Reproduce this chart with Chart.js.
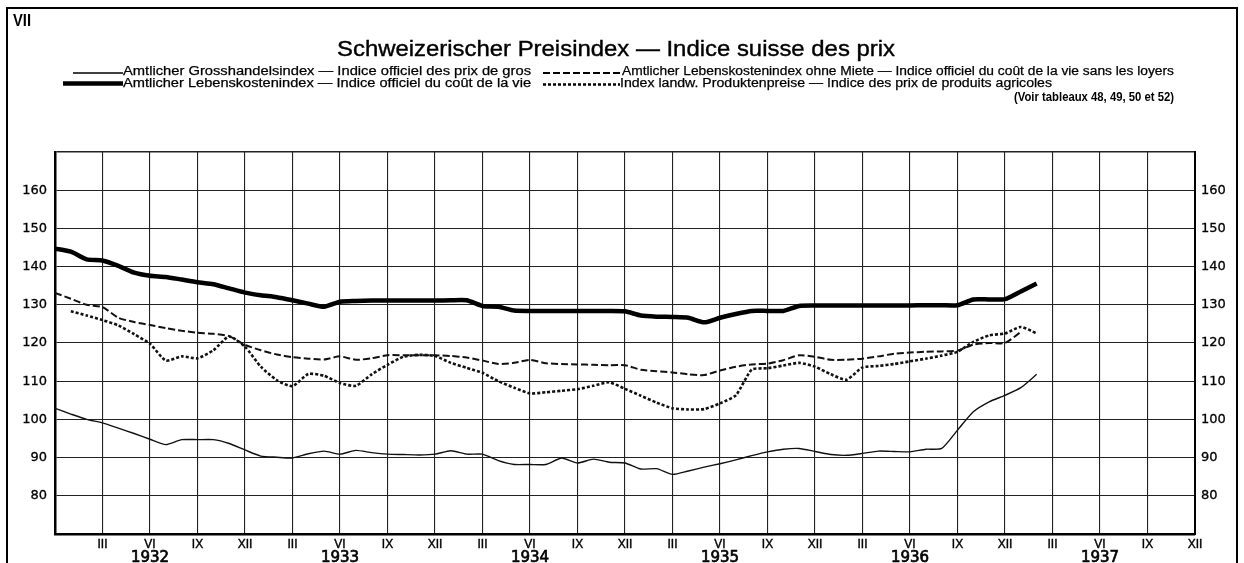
<!DOCTYPE html>
<html>
<head>
<meta charset="utf-8">
<script src="https://cdn.jsdelivr.net/npm/chart.js@4.4.1/dist/chart.umd.min.js"></script>
<style>
  html, body { margin: 0; padding: 0; background: #fff; overflow: hidden; }
  canvas { display: block; }
</style>
</head>
<body>
<canvas id="preisChart" width="1244" height="563"></canvas>
<script>
// month index: 0 = start of 1932, 12 = XII 1932, ... 72 = XII 1937
const monthIndex = [0, 1, 2, 3, 4, 5, 6, 7, 8, 9, 10, 11, 12, 13, 14, 15, 16, 17, 18, 19, 20,
  21, 22, 23, 24, 25, 26, 27, 28, 29, 30, 31, 32, 33, 34, 35, 36, 37, 38, 39, 40, 41,
  42, 43, 44, 45, 46, 47, 48, 49, 50, 51, 52, 53, 54, 55, 56, 57, 58, 59, 60, 61, 62];

const grosshandel = [102.9, 101.4, 100.0, 99.1, 97.7, 96.3, 94.8, 93.4, 94.7, 94.7, 94.7,
  93.7, 92.0, 90.4, 90.1, 89.9, 91.0, 91.7, 90.9, 91.9, 91.3, 90.9, 90.8, 90.7, 90.9,
  91.8, 90.9, 90.9, 89.2, 88.2, 88.2, 88.2, 89.9, 88.6, 89.6, 88.8, 88.6, 87.0, 87.1,
  85.6, 86.5, 87.5, 88.4, 89.4, 90.5, 91.5, 92.2, 92.4, 91.6, 90.8, 90.6, 91.1, 91.7,
  91.6, 91.5, 92.2, 92.4, 97.2, 102.0, 104.6, 106.3, 108.3, 111.8];

const lebenskosten = [144.7, 143.9, 141.9, 141.6, 140.2, 138.4, 137.6, 137.3, 136.6, 135.9,
  135.4, 134.3, 133.2, 132.5, 132.0, 131.2, 130.3, 129.5, 130.8, 131.0, 131.1, 131.1,
  131.1, 131.1, 131.1, 131.2, 131.2, 129.7, 129.5, 128.5, 128.4, 128.4, 128.4, 128.4,
  128.4, 128.4, 128.3, 127.2, 126.9, 126.8, 126.6, 125.4, 126.6, 127.6, 128.4, 128.4,
  128.4, 129.7, 129.8, 129.8, 129.8, 129.8, 129.8, 129.8, 129.8, 129.9, 129.9, 129.9,
  131.4, 131.4, 131.5, 133.5, 135.6];

const ohneMiete = [133.1, 131.6, 130.0, 129.4, 126.6, 125.5, 124.7, 123.9, 123.2, 122.7,
  122.4, 121.8, 119.5, 118.1, 117.0, 116.3, 115.9, 115.7, 116.5, 115.6, 116.0, 116.8,
  116.8, 116.8, 116.8, 116.6, 116.2, 115.4, 114.5, 114.8, 115.6, 114.7, 114.5, 114.4,
  114.3, 114.2, 114.2, 113.0, 112.6, 112.3, 111.8, 111.6, 112.8, 113.8, 114.4, 114.6,
  115.5, 116.8, 116.4, 115.6, 115.6, 115.9, 116.5, 117.2, 117.5, 117.7, 117.8, 118.0,
  119.6, 120.0, 120.0, 122.9, null];

const landw = [null, 128.3, 127.2, 126.0, 124.6, 122.3, 119.8, 115.4, 116.5, 116.0, 118.1,
  121.7, 119.0, 113.8, 110.3, 108.7, 111.9, 111.4, 109.5, 108.8, 111.8, 114.3, 116.4,
  116.9, 116.6, 114.8, 113.5, 112.2, 110.0, 108.3, 106.8, 107.1, 107.5, 107.9, 108.8,
  109.7, 108.0, 106.2, 104.4, 102.9, 102.6, 102.7, 104.2, 106.3, 113.0, 113.4, 114.1,
  114.8, 113.8, 111.8, 110.4, 113.6, 114.0, 114.5, 115.2, 115.9, 116.7, 117.7, 120.3,
  122.0, 122.5, 124.2, 122.5];

const monthNames = ["XII", "III", "VI", "IX"];
const yearTicks = [6, 18, 30, 42, 54, 66];
const yearLabels = ["1932", "1933", "1934", "1935", "1936", "1937"];
const valueTicks = [80, 90, 100, 110, 120, 130, 140, 150, 160];

const chartTitle = "Schweizerischer Preisindex — Indice suisse des prix";
const sheetNumber = "VII";
const sourceNote = "(Voir tableaux 48, 49, 50 et 52)";

function points(series) {
  return monthIndex.map((m, i) => ({ x: m, y: series[i] }));
}

// squeeze text horizontally into a given width (the original uses a condensed face),
// with a hairline stroke to get the heavier printed look
function fitText(ctx, text, x, y, width, font, stroke) {
  ctx.font = font;
  const w = ctx.measureText(text).width;
  ctx.save();
  ctx.translate(x, y);
  ctx.scale(width / w, 1);
  ctx.fillText(text, 0, 0);
  if (stroke) {
    ctx.lineWidth = stroke;
    ctx.strokeStyle = "#000";
    ctx.strokeText(text, 0, 0);
  }
  ctx.restore();
}

// legend slots: which dataset, where the sample line and the text go
const legendSlots = [
  { ds: 0, x1: 73, x2: 123, tx: 123, tw: 408, base: 75 },
  { ds: 2, x1: 543, x2: 622, tx: 622, tw: 552, base: 75 },
  { ds: 1, x1: 63, x2: 123, tx: 123, tw: 408, base: 86.5 },
  { ds: 3, x1: 543, x2: 620, tx: 620, tw: 432, base: 86.5 },
];

const headerPlugin = {
  id: "header",
  afterDraw(chart) {
    const ctx = chart.ctx;
    ctx.save();
    ctx.strokeStyle = "#000";
    ctx.lineWidth = 2;
    ctx.strokeRect(7, 8, 1230, 600);

    ctx.fillStyle = "#000";
    ctx.textBaseline = "alphabetic";
    fitText(ctx, sheetNumber, 13, 26, 18, 'bold 16px "Liberation Sans"');
    fitText(ctx, chartTitle, 337, 56, 558, '22px "Liberation Sans"', 0.4);

    legendSlots.forEach((s) => {
      const ds = chart.data.datasets[s.ds];
      ctx.save();
      ctx.strokeStyle = "#000";
      ctx.lineWidth = ds.borderWidth;
      ctx.setLineDash(ds.borderDash || []);
      ctx.beginPath();
      const ly = s.base - (ds.borderWidth > 3 ? 3 : 2);
      ctx.moveTo(s.x1, ly);
      ctx.lineTo(s.x2, ly);
      ctx.stroke();
      ctx.restore();
      fitText(ctx, ds.label, s.tx, s.base, s.tw, '12.5px "Liberation Sans"', 0.25);
    });
    fitText(ctx, sourceNote, 1014, 100.5, 160, 'bold 13px "Liberation Sans"');
    ctx.restore();
  },
};

const gridColor = "#222";

new Chart(document.getElementById("preisChart"), {
  type: "line",
  data: {
    datasets: [
      {
        label: "Amtlicher Grosshandelsindex — Indice officiel des prix de gros",
        data: points(grosshandel),
        borderColor: "#111",
        borderWidth: 1.4,
        pointRadius: 0,
        tension: 0.2,
      },
      {
        label: "Amtlicher Lebenskostenindex — Indice officiel du coût de la vie",
        data: points(lebenskosten),
        borderColor: "#000",
        borderWidth: 4.5,
        pointRadius: 0,
        tension: 0.2,
      },
      {
        label: "Amtlicher Lebenskostenindex ohne Miete — Indice officiel du coût de la vie sans les loyers",
        data: points(ohneMiete),
        borderColor: "#111",
        borderWidth: 2,
        borderDash: [7, 3],
        pointRadius: 0,
        tension: 0.2,
      },
      {
        label: "Index landw. Produktenpreise — Indice des prix de produits agricoles",
        data: points(landw),
        borderColor: "#111",
        borderWidth: 2.6,
        borderDash: [3, 2],
        pointRadius: 0,
        tension: 0.2,
      },
    ],
  },
  options: {
    responsive: false,
    animation: false,
    devicePixelRatio: 1,
    layout: { padding: { top: 152, left: 0, right: 0, bottom: 0 } },
    plugins: {
      legend: { display: false },
      tooltip: { enabled: false },
    },
    scales: {
      x: {
        type: "linear",
        position: "bottom",
        min: 0,
        max: 72,
        weight: 0,
        afterFit: (scale) => { scale.height = 15; },
        grid: { color: gridColor, lineWidth: 1.1, drawTicks: false },
        border: { color: "#000", width: 2.5 },
        ticks: {
          stepSize: 3,
          autoSkip: false,
          maxRotation: 0,
          padding: 3,
          color: "#000",
          textStrokeColor: "#000",
          textStrokeWidth: 0.4,
          font: { family: '"Liberation Sans Narrow", "Liberation Sans"', size: 12 },
          callback: (v) => (v === 0 ? "" : monthNames[(v % 12) / 3]),
        },
      },
      years: {
        type: "linear",
        position: "bottom",
        min: 0,
        max: 72,
        weight: 1,
        afterFit: (scale) => { scale.height = 14; },
        afterBuildTicks: (scale) => {
          scale.ticks = yearTicks.map((v) => ({ value: v }));
        },
        grid: { display: false, drawTicks: false },
        border: { display: false },
        ticks: {
          autoSkip: false,
          maxRotation: 0,
          padding: 0,
          color: "#000",
          textStrokeColor: "#000",
          textStrokeWidth: 0.7,
          font: { family: '"DejaVu Sans"', size: 15 },
          callback: (v) => yearLabels[yearTicks.indexOf(v)],
        },
      },
      y: {
        position: "left",
        min: 70,
        max: 170,
        afterFit: (scale) => { scale.width = 55; },
        grid: {
          color: gridColor,
          drawTicks: false,
          lineWidth: (c) => (c.tick && c.tick.value === 170 ? 1.6 : 1.1),
        },
        border: { color: "#000", width: 2.5 },
        ticks: {
          stepSize: 10,
          padding: 8,
          color: "#000",
          textStrokeColor: "#000",
          textStrokeWidth: 0.3,
          font: { family: '"DejaVu Sans"', size: 13 },
          callback: (v) => (valueTicks.includes(v) ? String(v) : ""),
        },
      },
      yRight: {
        position: "right",
        min: 70,
        max: 170,
        afterFit: (scale) => { scale.width = 49; },
        grid: { display: false, drawTicks: false },
        border: { color: "#000", width: 2 },
        ticks: {
          stepSize: 10,
          padding: 6,
          color: "#000",
          textStrokeColor: "#000",
          textStrokeWidth: 0.3,
          font: { family: '"DejaVu Sans"', size: 13 },
          callback: (v) => (valueTicks.includes(v) ? String(v) : ""),
        },
      },
    },
  },
  plugins: [headerPlugin],
});
</script>
</body>
</html>
